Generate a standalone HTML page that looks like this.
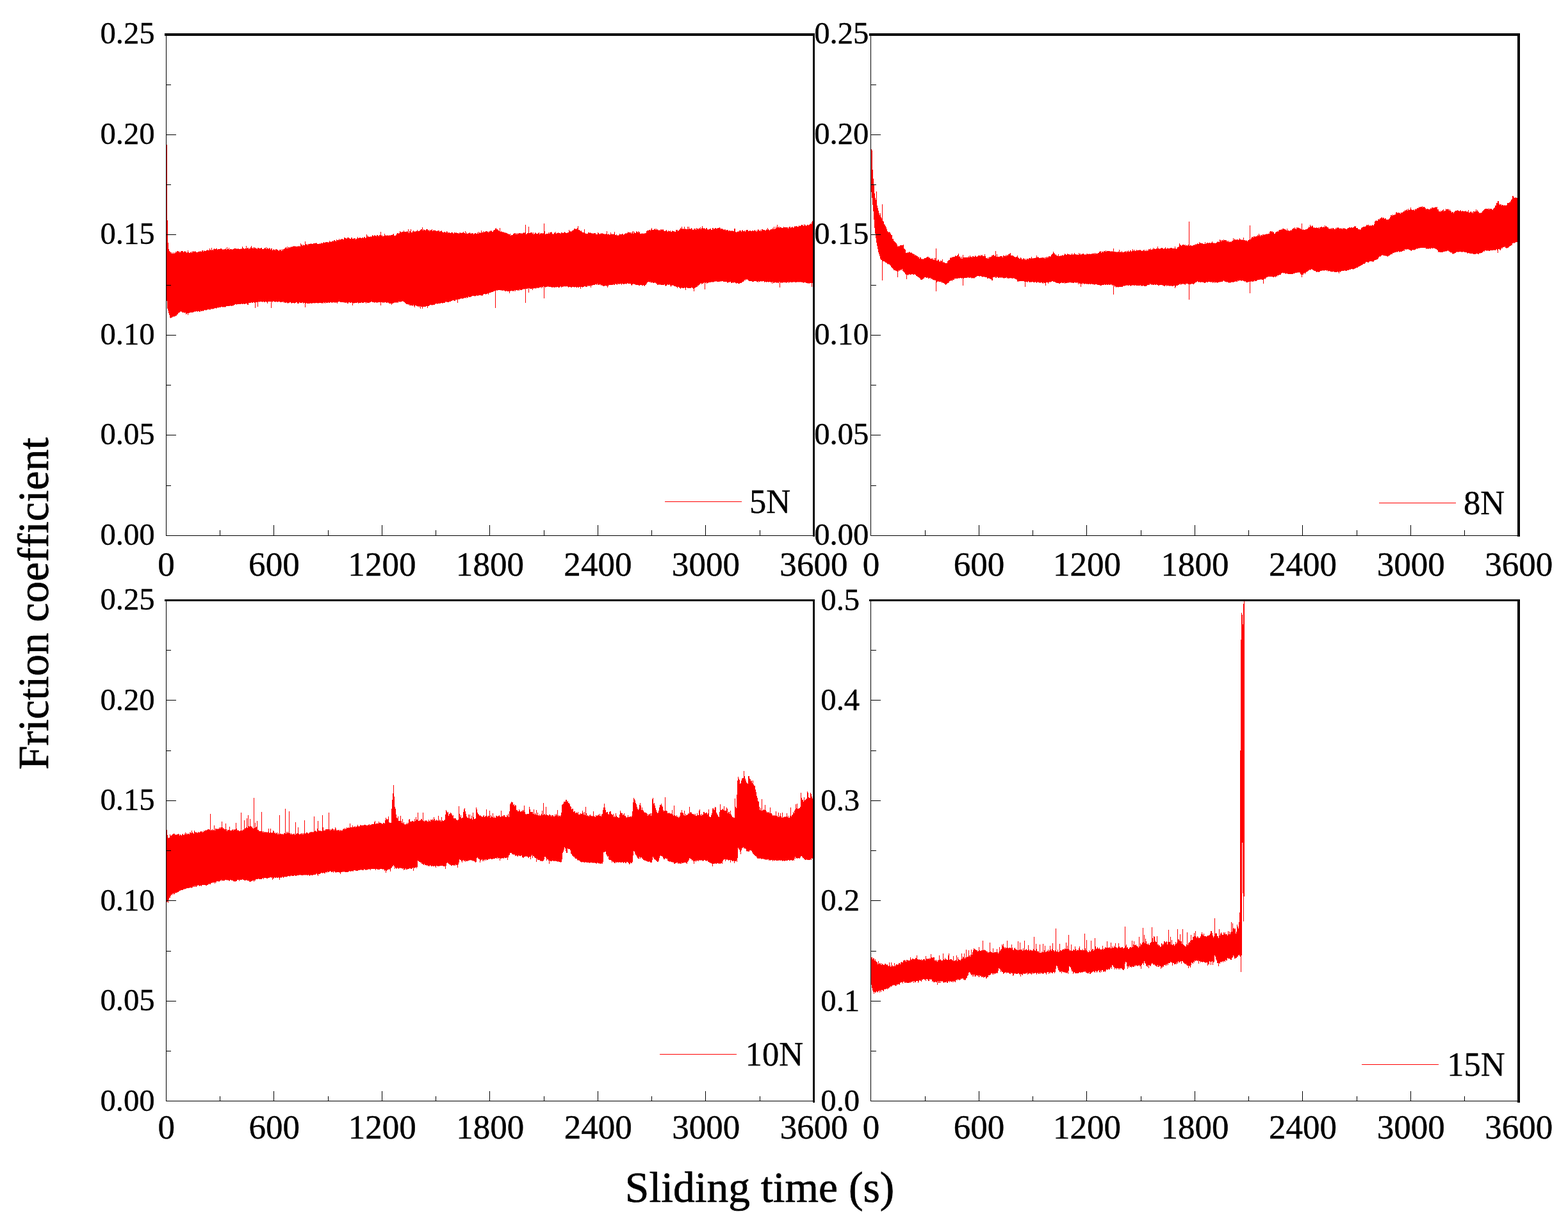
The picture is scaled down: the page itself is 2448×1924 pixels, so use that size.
<!DOCTYPE html>
<html lang="en"><head><meta charset="utf-8"><title>Friction coefficient vs sliding time</title>
<style>
html,body{margin:0;padding:0;background:#fff}
body{width:2448px;height:1924px;overflow:hidden}
svg{display:block}
text{font-kerning:none}
</style></head><body>
<svg width="2448" height="1924" viewBox="0 0 2448 1924">
<rect width="2448" height="1924" fill="#fff"/>
<g fill="#ff0000" shape-rendering="crispEdges">
<path d="M260 226h1v118h1v35h1v10h1v3h1v1h1v1h1v2h1v-2h1v2h2v-2h1v2h1v-1h1v-2h1v1h1v-2h2v1h1v-1h1v2h2v-2h4v2h1v-1h1v-1h1v1h2v2h1v-1h1v-3h1v3h1v1h2v-1h1v-1h1v2h1v-2h1v-1h1v1h2v-1h1v1h1v1h3v-1h3v-1h1v1h2v-2h2v2h1v-2h1v1h3v-1h1v-1h1v1h3v-3h1v2h1v1h1v-4h1v3h1v1h1v-2h1v-1h1v1h2v-1h2v2h1v-1h4v-1h2v1h1v1h1v-1h1v1h1v-1h2v-1h1v2h1v-4h1v3h2v-2h1v3h1v-1h3v1h1v-1h2v-1h4v1h1v-1h1v1h1v-1h1v1h3v-1h1v1h1v-4h1v2h1v1h1v1h1v-1h2v-4h1v4h1v-1h2v2h1v-1h2v-2h1v-2h1v3h1v1h1v-2h1v2h1v-2h1v1h1v1h2v1h1v-2h2v1h3v-1h2v2h3v-1h1v-1h1v1h1v-2h1v3h1v-2h1v1h1v1h1v-2h1v1h1v2h1v-2h2v3h1v-1h1v-1h1v1h1v1h1v-2h2v1h2v1h1v1h1v-2h3v2h1v-3h1v2h1v-2h2v-1h1v-1h1v-1h1v2h1v-3h1v3h1v-2h2v1h1v-1h1v-1h1v1h1v-1h2v-1h1v1h1v-1h1v1h4v-1h1v1h1v-1h1v1h1v-5h1v2h2v2h1v-2h1v1h2v-6h1v4h1v1h1v-1h1v2h1v-2h4v-1h1v1h3v-1h4v-1h1v1h1v1h4v-1h1v1h1v-2h1v1h2v-1h1v-1h1v1h2v-1h4v1h1v-1h1v-2h1v2h1v-1h1v1h1v-1h1v-1h1v1h1v-2h2v1h1v1h1v-3h1v1h3v-2h1v2h1v-1h2v-1h2v1h2v-3h2v1h2v1h1v-2h3v1h1v1h2v-2h2v2h2v-1h3v2h1v-1h1v-1h1v-2h1v2h2v-1h2v1h2v-1h2v1h1v-2h2v2h1v-1h1v-5h1v2h1v2h1v-1h1v1h2v-1h1v1h1v-1h1v-2h1v1h1v1h1v-2h1v1h2v1h1v-2h2v1h1v1h1v-2h2v-5h1v6h1v-1h1v2h2v-1h1v-3h1v3h1v-1h1v1h2v-1h1v1h2v-1h1v1h1v-1h3v-1h1v-1h1v3h3v-1h1v-2h1v-1h2v1h1v-1h1v-3h1v1h1v1h1v-1h3v-2h1v2h4v-1h1v1h1v-4h1v6h1v-3h2v-3h1v5h2v-2h1v-1h1v2h1v-1h1v1h1v-1h2v-2h1v2h3v-1h1v-1h1v-1h2v-3h1v5h1v-2h1v1h2v1h1v-2h3v2h1v-1h1v2h1v-2h1v1h1v-1h1v-1h1v3h1v-1h1v-1h1v1h3v1h2v-1h3v2h1v-1h2v-1h1v2h1v1h2v-1h2v1h2v-2h1v1h1v2h1v-1h2v1h2v-1h3v1h1v1h1v-2h2v1h1v-1h1v1h3v1h1v-2h1v1h1v-1h1v1h2v-1h1v-1h1v2h2v-3h1v4h1v-2h1v2h2v-1h2v-1h1v2h1v-1h1v1h1v-1h2v2h1v-1h1v-1h2v1h2v-2h1v2h1v-3h1v2h1v-1h1v1h1v-4h1v3h2v-2h1v2h1v-1h2v-1h3v1h1v1h1v-2h1v1h1v-2h1v1h1v-1h1v2h2v-2h1v-1h2v-2h1v-1h1v2h2v1h1v1h1v1h1v-5h1v6h1v-1h1v1h2v1h1v-1h1v1h1v1h1v-1h1v1h2v1h2v1h2v-1h1v3h1v-1h3v-2h2v-1h2v2h1v-2h1v2h1v-2h1v1h1v-1h3v1h1v-1h1v1h1v-1h1v-1h1v1h1v-1h1v-12h1v15h1v-1h1v-1h2v-10h1v10h2v-1h3v2h1v-2h1v3h1v-1h1v-2h1v1h1v1h3v-1h1v-1h1v3h1v-2h1v1h1v-1h2v1h1v-1h1v-15h1v12h1v5h1v-1h4v-2h1v2h1v-2h2v-1h1v1h1v2h1v1h1v-1h1v-2h1v1h1v-2h1v3h1v-1h2v-1h1v1h3v1h1v-2h2v1h2v-1h1v-1h1v1h1v1h3v-1h2v-4h1v2h2v1h1v-1h1v-1h2v-1h1v-2h2v1h1v-1h1v1h1v-2h1v-3h1v6h2v1h1v1h1v-1h1v2h1v1h3v-5h1v6h1v1h4v-2h2v1h1v-1h1v1h2v1h1v-1h1v1h1v-1h3v2h3v-3h1v1h1v1h1v1h1v-1h1v-1h1v1h1v-1h1v1h2v1h1v-1h1v1h1v-1h1v-4h1v5h2v-1h1v2h1v-1h1v-3h1v3h1v-1h1v1h2v-1h1v-3h1v5h2v-1h1v2h1v-1h1v1h1v-1h1v-2h1v1h3v-1h2v2h1v-1h1v-1h1v-1h1v1h1v-1h2v-2h1v1h4v2h1v-2h1v-2h1v4h1v-4h1v2h1v1h2v-3h1v1h1v1h1v-2h1v2h1v-1h1v3h3v-1h1v1h2v-1h1v1h1v-1h2v-3h1v-1h3v-1h2v1h1v-2h1v-2h1v3h3v-1h1v-1h1v2h1v-2h1v2h1v-1h1v1h1v1h1v-1h1v1h1v-2h1v1h1v-1h1v1h1v-1h1v2h1v1h2v-1h1v-1h1v2h1v1h1v-2h1v1h2v-1h1v2h2v-2h1v1h3v1h2v-3h3v2h1v-1h1v-1h1v-1h1v-2h1v1h1v-3h1v3h1v1h1v-1h1v-3h1v4h1v-1h1v1h2v-4h1v4h1v-4h1v3h1v1h1v-1h1v-1h1v1h1v2h2v-2h3v2h1v-3h1v1h2v1h1v-2h1v1h1v-2h1v3h1v-2h1v-3h1v3h1v1h1v-1h1v1h1v1h1v-2h2v2h1v1h1v-1h2v-1h2v2h2v-3h2v2h1v-1h1v-1h2v1h2v-1h3v-1h1v1h1v2h1v-1h2v1h1v1h1v-1h1v1h1v-1h1v2h1v-1h3v2h1v-1h2v1h1v-1h1v1h1v-1h1v1h2v-4h2v5h1v1h1v-1h2v-1h1v1h1v-2h3v2h1v-2h1v-1h1v2h2v-1h1v2h1v-2h1v-1h3v2h2v-1h2v1h2v-1h2v1h1v-1h1v-1h1v2h1v-1h1v2h1v-2h1v-2h1v1h1v1h1v1h1v-2h1v2h1v-3h2v1h3v1h2v-2h1v1h1v-3h1v2h1v1h1v1h1v-1h1v-1h3v-2h1v2h1v-4h1v4h1v-1h1v-3h1v2h1v-5h1v4h1v-1h1v2h1v-2h1v1h2v1h3v-2h1v1h6v2h1v-2h1v-1h2v2h1v-1h2v-1h1v2h1v-1h1v-2h1v1h1v-1h2v1h3v-2h1v1h2v-1h1v-1h2v1h1v1h1v-3h1v2h1v-1h1v2h1v-1h1v-1h2v1h1v-1h1v-1h1v-1h1v1h1v-3h1v-2h1V442h-1v6h-1v-6h-3v1h-1v-1h-1v1h-1v-1h-3v-1h-3v1h-1v-1h-3v-1h-1v1h-1v-1h-1v1h-1v-1h-1v1h-1v-1h-1v1h-3v-1h-1v1h-1v-1h-1v1h-4v-1h-1v1h-1v1h-1v-2h-1v1h-2v1h-1v-1h-5v1h-1v-1h-1v1h-1v-1h-1v8h-1v-9h-1v2h-2v-1h-1v1h-1v-1h-3v1h-2v-2h-1v3h-1v-2h-1v-1h-1v1h-1v-1h-2v1h-1v-1h-2v1h-1v-1h-2v1h-1v-2h-3v1h-1v-1h-2v1h-2v-1h-1v2h-1v-1h-2v-1h-4v1h-3v-1h-5v-1h-1v-1h-1v-1h-1v1h-1v-1h-1v2h-1v-1h-1v2h-1v1h-2v1h-1v1h-3v1h-3v-1h-2v1h-1v-1h-1v-1h-3v1h-1v-1h-1v1h-2v-2h-2v1h-3v1h-1v-2h-6v-1h-3v1h-1v-1h-1v1h-5v-1h-1v1h-1v-1h-1v1h-2v1h-1v-1h-1v1h-1v-1h-1v1h-4v1h-2v1h-1v-2h-1v1h-1v10h-1v-11h-1v1h-1v1h-2v1h-1v-2h-1v1h-1v1h-1v1h-1v1h-2v2h-2v1h-2v1h-1v5h-1v-4h-1v-1h-1v-1h-2v1h-6v-1h-2v4h-1v-3h-1v-1h-1v1h-3v-1h-1v1h-1v1h-1v-1h-1v-1h-1v-1h-2v2h-1v-2h-2v-1h-3v-1h-1v-1h-1v1h-2v2h-1v-2h-1v-2h-1v1h-2v-1h-1v1h-1v1h-1v1h-1v-1h-1v-2h-1v1h-6v-1h-1v1h-1v-1h-1v1h-2v-2h-2v-1h-1v-1h-1v1h-3v-1h-2v1h-1v-2h-1v1h-1v-1h-2v1h-2v2h-1v2h-2v2h-1v-1h-1v-1h-1v1h-2v-1h-3v1h-2v-1h-5v-1h-2v-1h-1v1h-2v2h-1v-1h-1v-2h-5v-1h-1v1h-1v1h-1v-1h-2v1h-2v-1h-2v2h-1v-2h-2v1h-1v-1h-1v1h-1v-1h-1v2h-1v-1h-2v-1h-1v2h-2v-1h-1v1h-7v2h-1v2h-1v-3h-1v1h-1v-1h-2v1h-3v-1h-1v-1h-1v1h-1v-2h-1v1h-1v-1h-1v1h-2v-2h-1v2h-1v-1h-2v1h-4v1h-2v3h-1v-3h-1v1h-1v-1h-1v1h-1v-1h-1v2h-3v-1h-2v1h-2v1h-1v-1h-2v3h-1v-3h-2v1h-2v-1h-1v1h-2v-1h-2v1h-1v-1h-3v1h-2v-1h-3v1h-1v-1h-1v-1h-2v1h-1v-1h-2v1h-1v-1h-1v1h-2v1h-1v-2h-1v1h-1v1h-3v-1h-2v1h-1v-1h-1v1h-3v-1h-1v1h-2v-1h-5v-1h-1v1h-3v1h-1v-1h-1v18h-1v-19h-1v2h-1v-1h-1v2h-1v-2h-1v1h-3v1h-2v-1h-1v1h-1v1h-1v-1h-2v1h-1v-1h-1v3h-1v-2h-4v-1h-1v7h-1v-7h-1v1h-3v22h-1v-22h-1v1h-1v-1h-1v1h-2v1h-3v-1h-1v2h-1v-1h-1v1h-1v-1h-3v2h-1v-2h-1v2h-1v-1h-1v1h-1v-1h-3v1h-1v3h-1v-3h-4v-1h-1v1h-2v-1h-1v-1h-1v1h-2v-1h-1v1h-1v-1h-5v1h-1v-1h-1v1h-1v27h-1v-27h-1v1h-2v1h-3v1h-3v1h-1v2h-1v-2h-1v1h-2v1h-1v-1h-3v1h-1v2h-1v-1h-1v1h-1v-1h-4v1h-2v-1h-1v1h-2v1h-1v-1h-4v1h-2v1h-3v-1h-1v2h-2v-1h-1v2h-1v-1h-2v1h-3v1h-1v-1h-2v1h-2v1h-1v-1h-1v6h-1v-5h-3v2h-2v-1h-3v1h-2v1h-3v1h-3v-1h-1v1h-1v-1h-1v2h-4v1h-1v-1h-2v1h-5v1h-1v-1h-2v1h-1v1h-4v1h-1v-1h-3v1h-1v1h-2v3h-1v-3h-2v1h-5v3h-1v-3h-2v3h-1v-4h-1v2h-1v-2h-1v1h-1v-1h-2v-1h-2v3h-1v-2h-1v-2h-1v2h-1v-1h-5v-2h-1v1h-1v-1h-3v-1h-1v-1h-1v-1h-1v-1h-2v-1h-1v1h-3v1h-1v-1h-2v2h-1v-1h-1v1h-1v-1h-1v1h-1v-1h-1v1h-2v1h-2v2h-1v-2h-4v-1h-1v-1h-1v1h-2v-1h-3v1h-1v-1h-1v1h-1v-1h-2v5h-1v-5h-4v1h-1v-1h-1v1h-1v-1h-2v1h-1v-1h-3v-1h-2v1h-2v1h-4v-1h-1v2h-1v-2h-3v1h-3v-1h-1v1h-4v1h-1v-2h-1v1h-5v1h-1v-1h-1v4h-1v-4h-1v-1h-1v1h-2v-1h-2v2h-2v-2h-1v1h-2v-1h-1v1h-1v-1h-6v-1h-3v1h-1v2h-1v-2h-1v1h-1v-1h-1v1h-1v-1h-2v1h-1v-1h-1v1h-1v-1h-2v1h-2v-1h-1v1h-3v-1h-1v2h-1v-1h-1v-1h-1v2h-1v-1h-1v1h-1v-1h-5v1h-1v-1h-4v1h-1v-1h-2v1h-1v-1h-1v1h-2v-1h-1v1h-5v-1h-1v1h-1v6h-1v-7h-2v1h-1v-2h-1v1h-4v-1h-1v2h-3v-2h-2v1h-2v1h-1v-1h-3v1h-1v-1h-1v-1h-2v1h-2v1h-1v-1h-1v-1h-1v1h-2v-1h-1v1h-1v-2h-1v1h-1v-1h-1v1h-3v-1h-3v1h-1v-1h-3v1h-1v-1h-2v-1h-1v2h-1v-1h-1v10h-1v-10h-5v3h-1v-2h-1v-1h-2v1h-2v-1h-2v1h-1v-1h-4v1h-1v-1h-1v8h-1v-7h-3v9h-1v-8h-1v-1h-2v1h-2v-1h-1v1h-4v3h-2v-2h-3v1h-2v-1h-1v1h-2v-1h-1v1h-7v1h-1v-1h-2v1h-2v1h-1v1h-1v-1h-1v1h-2v-1h-1v1h-6v1h-1v1h-1v-1h-1v1h-1v-1h-1v1h-1v-1h-2v1h-4v1h-1v-1h-1v1h-1v1h-1v-1h-2v1h-2v1h-1v-1h-1v1h-1v-1h-1v2h-1v-1h-1v1h-1v-1h-2v1h-2v1h-1v-1h-2v1h-1v1h-1v-1h-1v1h-2v-1h-1v2h-2v-1h-2v1h-1v-1h-2v1h-1v-1h-1v1h-2v1h-6v1h-2v3h-1v-3h-1v1h-1v1h-1v-3h-1v1h-1v-1h-4v-1h-1v-1h-1v1h-1v1h-2v1h-1v2h-2v2h-2v1h-2v1h-1v-1h-1v1h-1v1h-2v1h-1v-1h-1v-4h-1v-3h-1v-4h-1v-3h-1v-12h-1Z"/>
<path d="M1360 233h1v2h1v30h1v14h1v10h1v13h1v7h1v3h1v-13h1v22h1v4h1v4h1v4h1v3h1v-3h1v6h1v2h1v-22h1v26h1v1h1v4h1v1h1v2h1v2h1v3h1v3h1v1h1v1h1v-1h1v1h1v2h1v2h2v6h2v3h1v1h1v1h1v1h1v1h1v2h1v3h1v-1h1v1h1v-1h1v-1h5v-1h1v6h1v1h1v1h1v5h2v-1h1v1h1v-1h1v-1h1v1h1v1h1v-1h1v1h1v1h2v1h2v2h1v-1h1v1h1v1h2v2h1v-1h1v3h1v-2h2v2h1v1h1v-1h1v1h1v-1h1v-1h3v-1h1v-1h3v2h1v-1h1v2h3v-1h1v2h1v1h1v-3h1v3h1v-3h1v-15h1v19h2v-2h1v1h1v2h1v1h1v-2h2v1h1v-3h1v5h1v-1h1v1h1v1h4v-3h1v-1h1v-1h2v-3h1v-1h1v1h1v-2h1v1h1v-1h3v-2h1v1h2v-1h1v-1h1v-2h1v5h1v-1h1v2h1v2h1v-3h1v3h1v-6h1v4h8v-2h1v2h1v-3h1v2h2v1h1v-2h2v1h2v-2h1v1h1v1h2v-1h1v-1h3v1h1v-2h1v1h1v-1h1v2h3v-3h1v3h1v3h2v1h1v-2h1v2h1v-3h1v1h1v-1h2v-2h2v-1h2v2h1v-1h1v-7h1v9h1v-4h1v4h4v-1h4v2h1v-3h2v1h2v-2h1v2h1v-2h1v1h1v-2h2v-1h1v-1h1v4h4v1h1v1h2v1h1v-1h2v-2h1v3h1v1h1v1h2v-2h1v1h1v2h2v-2h1v1h2v2h1v-2h1v2h1v-2h2v1h1v-2h3v1h1v-3h1v2h1v1h1v-1h4v-1h1v-3h1v3h1v-1h1v1h1v1h3v-1h1v1h1v-1h2v1h1v-1h1v2h1v-2h1v-1h1v2h1v-2h1v1h1v-2h2v1h1v-1h1v-2h1v-1h1v-1h1v-3h1v2h1v1h1v2h1v-1h1v2h2v1h1v-3h1v3h2v-1h1v1h1v-1h1v-1h1v1h2v-1h1v-2h1v1h1v1h2v-2h1v1h3v1h2v-2h1v2h1v-2h1v2h1v-1h1v-2h1v2h2v1h1v-1h1v1h2v-3h1v2h1v-1h1v2h1v-1h2v-1h2v1h1v1h1v-1h1v1h1v-2h1v1h1v-1h1v1h2v-1h1v1h2v-1h4v-1h1v2h1v-2h1v1h3v-1h2v-2h2v-1h1v3h1v-2h2v1h1v-2h2v1h1v-2h1v2h1v-1h5v1h1v-1h1v1h1v-1h1v1h1v-5h1v5h3v1h1v-1h1v1h1v-1h2v-3h1v4h1v-1h1v1h1v-2h1v2h3v-1h2v-1h1v2h1v-2h1v1h1v-2h1v2h2v-2h2v2h1v-1h1v-3h1v2h1v1h1v-2h1v2h2v-2h1v1h3v-1h1v1h1v-1h1v1h1v1h2v-1h1v-1h1v2h1v-2h1v2h2v-2h1v2h1v-1h1v-2h2v1h1v-2h1v2h2v-1h1v-2h1v2h1v-1h1v1h2v-1h2v-3h1v3h2v1h1v-1h2v-1h2v1h1v1h1v-1h2v-2h1v2h1v1h1v-2h1v1h4v-1h3v1h4v-3h1v3h1v1h1v-1h1v-2h2v-1h1v-5h1v2h1v1h1v1h1v-1h1v-1h3v1h1v-1h1v2h1v-1h2v1h1v-2h1v-36h1v38h1v-1h2v1h2v-1h2v-1h1v1h1v-2h1v1h1v-1h1v-1h1v1h2v-3h1v2h1v-1h1v1h3v1h3v-3h1v3h1v-1h1v-1h2v1h1v-1h2v1h1v-1h2v-2h1v2h1v1h1v-1h1v1h2v-1h2v-1h1v-1h1v1h2v-4h1v1h1v2h1v-2h2v1h1v-2h1v1h4v2h1v-1h1v2h1v-2h1v2h2v-1h1v1h1v-2h2v-4h1v3h1v-2h1v1h1v1h1v-1h3v1h1v-1h1v-2h1v2h2v1h1v-1h1v1h1v-4h1v4h2v1h1v-1h1v1h1v1h1v-2h2v-1h1v-22h1v22h1v-2h1v-2h2v1h1v-2h2v1h1v-1h3v-2h1v1h1v-3h1v2h1v2h1v-2h2v1h1v-2h2v1h1v-1h3v-1h1v1h1v-1h3v-3h1v-1h2v1h1v-1h1v2h1v-1h1v3h2v-2h1v-1h2v-1h1v1h1v-2h1v-1h3v-1h1v1h1v-2h3v1h2v1h1v1h1v-3h1v3h3v1h1v-1h1v-1h1v1h1v-2h1v-1h1v-1h1v1h1v-2h1v2h1v1h1v-3h1v1h1v-1h1v1h2v1h2v1h1v-9h1v10h1v-1h1v1h3v-1h3v-1h1v-1h1v-2h1v1h1v-4h1v2h1v1h1v-2h1v1h1v2h1v1h1v-1h1v1h2v-1h1v1h2v-1h1v2h1v-2h2v-1h2v1h2v-1h1v1h1v-3h1v2h1v-1h1v1h1v1h2v2h2v1h1v-1h1v-1h1v2h1v-2h2v1h1v1h2v-2h1v1h1v-2h1v1h1v-1h1v1h1v1h2v-1h1v1h1v1h1v-2h1v1h1v-1h1v1h2v1h2v-1h1v-1h2v-1h2v1h1v-1h2v1h1v-1h2v-2h1v1h1v-1h1v3h3v2h3v1h1v-1h1v-2h1v-1h2v-1h4v-1h1v-2h1v1h1v-1h2v2h1v-1h2v1h1v-1h1v-1h1v1h2v-2h1v-4h1v-1h1v-1h1v1h2v-2h1v-1h1v1h1v-2h2v-1h1v-1h1v2h1v-1h2v2h1v-1h2v2h4v-1h1v-1h1v-2h1v-3h2v1h1v-2h1v1h2v-1h2v-3h1v-1h1v2h1v-1h2v1h1v-1h1v2h1v-2h3v-1h1v-1h2v-2h1v1h1v-1h1v-1h1v2h1v-3h1v2h2v-1h1v-3h1v3h1v1h3v-1h1v2h1v-2h1v-1h1v1h1v-2h3v-2h1v1h1v-1h3v-1h1v2h1v-1h2v1h1v1h1v2h1v-1h3v1h3v-2h1v1h1v-2h3v1h1v-1h2v-1h1v1h1v-1h1v4h2v3h2v1h1v-2h1v1h1v-1h1v-1h1v-1h1v3h1v-1h2v-3h1v1h2v-1h1v1h1v2h1v-2h1v2h1v1h1v2h1v-1h2v2h1v-2h1v-1h1v-1h3v-1h1v1h2v1h1v-1h1v-1h1v2h2v-1h1v1h4v-1h1v2h1v-1h1v1h1v-3h1v4h2v-1h1v-1h1v2h1v-1h1v2h1v-3h2v1h1v-1h1v-3h1v3h1v-2h1v2h1v1h1v2h1v-1h1v1h1v-1h2v-2h1v-1h1v-1h1v-1h1v-1h5v1h1v-2h1v2h1v-1h3v1h1v1h1v-2h1v-1h1v-1h1v-3h2v-4h2v-3h2v4h1v2h1v-1h2v2h1v-1h2v1h2v-1h1v1h2v-1h1v-3h3v-1h2v-2h1v-2h1v-1h1v-5h2v2h1v1h2v-1h1v1h2V378h-3v1h-1v1h-1v-1h-1v1h-2v3h-2v1h-2v1h-1v1h-1v1h-2v1h-1v-1h-2v-2h-1v1h-3v2h-1v-1h-1v2h-1v2h-1v-1h-1v-1h-2v6h-1v-4h-1v-2h-1v1h-1v1h-2v-1h-1v1h-6v1h-2v-1h-1v1h-1v-1h-1v1h-1v-1h-2v2h-1v-1h-1v1h-1v1h-1v1h-3v1h-1v-1h-1v2h-2v-1h-3v1h-4v-1h-6v-1h-2v1h-1v-1h-1v-1h-4v-1h-2v1h-1v-1h-1v1h-1v-1h-3v1h-1v-1h-1v1h-1v-1h-1v1h-1v1h-2v1h-2v1h-1v-1h-1v-2h-1v1h-1v-1h-1v-1h-2v-1h-1v-1h-1v1h-2v1h-1v-1h-1v1h-3v1h-6v-1h-1v1h-1v-3h-1v-1h-1v-1h-2v-1h-2v-1h-1v1h-3v-1h-1v2h-1v-1h-2v1h-1v-1h-1v1h-1v-1h-1v1h-1v-2h-9v1h-1v-1h-1v1h-2v1h-1v-1h-1v1h-1v1h-2v1h-1v-1h-2v1h-1v1h-1v-1h-2v-1h-2v-1h-2v1h-1v-1h-1v1h-1v-1h-1v3h-1v-1h-1v1h-2v1h-4v1h-1v-2h-1v1h-1v1h-1v-1h-1v1h-3v1h-3v2h-3v1h-1v1h-2v1h-1v1h-1v-1h-2v-1h-1v1h-1v-1h-3v-1h-1v1h-2v2h-1v-1h-1v1h-1v1h-1v2h-1v1h-2v1h-3v1h-1v2h-1v-1h-1v1h-1v-1h-4v1h-1v1h-2v-1h-3v2h-1v1h-3v1h-1v1h-2v1h-2v1h-2v1h-1v1h-3v1h-2v1h-2v1h-1v-1h-3v1h-3v1h-3v1h-3v-1h-1v1h-5v1h-1v1h-1v-1h-1v3h-1v-2h-1v-1h-1v1h-5v-1h-3v1h-1v-1h-3v-1h-2v1h-1v-2h-1v1h-1v-1h-3v1h-1v-1h-1v1h-1v-1h-1v1h-3v1h-1v1h-2v-1h-1v1h-2v-1h-1v-1h-3v-1h-1v-1h-2v-1h-1v1h-1v1h-1v-1h-1v1h-1v1h-1v1h-2v1h-1v1h-1v2h-1v-2h-1v1h-1v2h-2v4h-1v-4h-1v-1h-1v-2h-1v-1h-1v1h-1v-1h-1v1h-4v1h-3v1h-9v-1h-2v1h-1v-1h-1v-1h-1v1h-1v-1h-3v1h-1v2h-3v1h-3v2h-1v-1h-1v2h-1v-1h-2v1h-2v-1h-8v1h-2v1h-1v2h-1v-1h-1v1h-1v7h-1v-6h-2v-1h-1v1h-1v-1h-1v1h-4v1h-1v1h-3v-1h-1v2h-1v-1h-1v1h-2v-1h-1v1h-1v18h-1v-18h-2v1h-4v-2h-1v1h-1v-1h-2v-1h-2v1h-1v-1h-4v1h-1v-1h-1v2h-2v-1h-1v1h-3v1h-2v-1h-1v1h-2v1h-1v-1h-1v1h-1v-1h-1v-1h-1v1h-1v-1h-3v-1h-1v-1h-1v1h-1v1h-4v1h-1v-1h-1v1h-2v1h-1v-1h-3v1h-1v-2h-1v1h-1v1h-1v-2h-1v1h-1v-1h-1v1h-1v-1h-3v1h-2v-1h-1v1h-1v1h-2v-1h-3v-1h-1v1h-3v-1h-1v1h-1v-1h-1v-1h-1v1h-1v1h-2v1h-1v1h-1v1h-2v-1h-2v1h-3v24h-1v-24h-1v-1h-4v2h-1v-1h-2v-1h-1v1h-1v-1h-1v1h-1v1h-1v-2h-1v1h-1v1h-2v1h-3v2h-1v2h-1v-4h-2v1h-3v-1h-1v1h-1v-1h-1v1h-1v-1h-3v1h-1v-2h-1v1h-1v1h-2v-1h-2v-1h-5v1h-2v-1h-2v-1h-1v1h-2v-1h-1v1h-3v-1h-1v1h-1v-1h-1v-1h-1v2h-4v1h-1v1h-4v-1h-2v1h-1v-1h-1v1h-1v-2h-1v1h-7v-1h-1v1h-2v-1h-1v1h-1v-1h-1v1h-1v1h-1v-1h-1v-1h-1v1h-3v-1h-1v1h-3v1h-1v-1h-1v1h-1v1h-7v1h-1v-1h-2v1h-1v-2h-1v1h-1v-2h-1v14h-1v-15h-1v1h-1v-2h-1v1h-1v-1h-1v1h-2v-1h-1v1h-2v-1h-1v1h-2v-1h-1v1h-4v1h-3v-1h-4v-1h-4v1h-1v-1h-3v-1h-1v1h-3v-1h-1v1h-2v-1h-1v1h-1v-1h-2v1h-1v-1h-2v-1h-1v2h-1v-1h-1v5h-1v-5h-2v-1h-1v2h-1v-3h-1v1h-1v-1h-1v1h-1v-1h-2v1h-3v-1h-1v1h-1v-1h-3v1h-1v-1h-1v1h-4v1h-1v-2h-1v1h-3v-1h-1v1h-2v1h-2v-1h-4v-1h-2v-1h-3v-1h-2v1h-2v1h-1v-1h-1v1h-1v2h-1v-2h-3v5h-1v-4h-2v-1h-1v2h-1v-1h-1v-1h-2v1h-1v-1h-1v1h-1v-1h-1v-1h-1v1h-1v1h-1v-1h-1v-1h-1v1h-3v-1h-2v1h-1v-1h-1v1h-2v-1h-1v-1h-1v2h-1v-1h-3v8h-1v-8h-1v-1h-8v1h-1v-1h-1v1h-1v-3h-1v-1h-2v-1h-2v-1h-1v1h-2v-1h-1v1h-1v-1h-2v1h-2v-1h-1v1h-1v-2h-1v1h-3v1h-1v-1h-2v-1h-1v1h-1v-1h-1v1h-1v-1h-1v1h-2v-1h-1v-1h-1v2h-2v-2h-1v1h-3v5h-2v-2h-2v-1h-2v-1h-1v1h-2v-2h-4v-1h-2v1h-1v-1h-2v-1h-2v1h-1v-1h-4v1h-1v1h-2v1h-1v1h-1v-1h-2v1h-1v-1h-1v-1h-1v1h-2v-1h-1v1h-1v-1h-1v1h-5v1h-1v11h-1v-12h-1v1h-1v-1h-3v1h-1v-1h-1v1h-6v2h-3v2h-1v-1h-2v1h-2v2h-1v1h-2v1h-1v1h-1v1h-1v-1h-1v-1h-1v-1h-2v-1h-1v1h-1v-2h-5v-1h-1v1h-1v1h-1v14h-1v-17h-1v-1h-1v1h-1v-1h-2v-1h-1v-1h-1v1h-1v-2h-2v1h-2v-2h-1v1h-2v-1h-3v2h-2v1h-1v1h-3v-2h-1v-1h-1v-1h-2v-1h-1v-1h-2v-2h-2v-1h-1v1h-2v-1h-2v1h-3v-1h-1v1h-1v1h-1v-1h-1v7h-1v-7h-1v-1h-1v-2h-1v-1h-1v-1h-1v-1h-1v-3h-1v2h-1v-1h-1v1h-1v1h-1v-1h-1v2h-1v9h-1v-9h-1v-1h-2v-1h-3v-2h-1v-1h-1v-1h-1v-1h-1v-2h-1v-1h-1v-1h-1v-1h-1v1h-1v-1h-1v-1h-1v-1h-2v-1h-1v-1h-3v30h-1v-32h-2v-2h-1v-4h-1v-3h-1v-3h-1v-5h-1v-5h-1v-5h-1v-7h-1v-7h-1v-9h-1v-13h-1v-13h-1v-10h-1v-11h-1v-9h-1Z"/>
<path d="M260 1296h1v8h1v4h1v1h1v-1h1v-5h1v2h2v-1h1v-1h1v-1h3v2h1v-1h1v1h1v-1h2v-1h1v1h1v2h1v-2h1v1h1v1h1v-2h1v-1h1v2h2v-2h1v-2h1v3h1v-2h1v2h1v-1h2v1h1v-3h2v1h1v-4h1v3h1v1h1v1h1v-5h1v2h1v1h3v1h1v-2h1v1h2v-1h1v-1h1v1h1v-1h1v2h1v-1h1v-2h1v1h1v-1h1v-1h1v1h1v-1h1v-1h3v1h1v-25h1v26h1v-1h1v-1h1v2h1v-1h1v-7h1v8h1v-3h2v1h1v-1h1v1h1v-1h1v-2h1v2h1v-2h2v-9h1v9h1v2h1v-1h1v2h2v-9h1v9h1v3h1v-2h3v-5h1v6h3v-1h1v-1h1v2h1v-2h1v1h1v-1h1v-10h1v9h1v3h1v-1h1v1h1v1h2v-1h1v-28h1v28h2v-2h1v1h1v-15h1v13h1v-1h1v-1h1v-14h1v15h1v-20h1v17h1v1h1v-12h1v11h1v1h2v2h1v1h1v-48h1v47h1v-8h1v7h1v-1h1v-9h1v14h2v2h4v-30h1v30h1v2h1v-2h1v2h1v-1h1v1h1v-1h1v1h2v-1h1v-5h1v7h1v-1h1v-6h1v6h1v1h1v-1h1v-3h1v1h1v3h1v-1h1v2h1v-1h1v-1h1v3h1v-2h1v2h1v-30h1v29h2v1h1v-1h1v1h2v-2h2v-38h1v39h1v-3h1v2h1v-2h1v2h1v-34h1v34h1v2h1v-2h1v2h3v-1h2v2h1v-20h1v18h2v-1h1v-9h1v10h1v1h2v-1h1v-1h1v2h1v-2h1v2h1v-2h1v-20h1v21h1v-1h1v-1h2v1h1v1h1v-1h1v-1h1v-1h1v1h1v-1h2v1h1v-1h1v-24h1v23h1v-1h1v1h1v1h1v-5h1v-12h1v15h2v1h1v-1h1v1h2v-25h1v19h1v5h3v-2h5v-26h1v26h1v2h1v-2h1v1h1v-2h2v1h1v2h1v-2h1v-3h1v2h1v3h1v-1h1v1h1v-1h2v2h1v-2h1v1h3v-2h1v-1h1v1h1v-2h1v2h1v-1h1v-2h1v1h2v-1h1v1h1v-7h1v6h3v-3h1v3h1v-1h2v-1h1v2h1v-1h1v-1h1v-2h1v2h1v1h1v-1h1v-2h1v1h5v-1h3v1h4v-1h1v-1h1v2h1v-1h2v-1h4v-3h1v-2h1v5h1v-1h4v-3h1v2h3v1h2v1h1v-2h2v1h1v-5h1v-4h1v2h1v1h1v-1h1v-4h1v9h1v1h3v-22h1v-14h1v-10h1v-13h1v18h1v16h1v3h1v9h1v5h1v1h1v-3h1v7h3v-8h1v8h1v3h1v-6h1v7h1v-2h1v3h1v1h1v-1h2v-2h1v2h1v-2h1v-5h1v-1h1v4h3v-1h2v1h2v-4h1v3h1v-6h1v4h2v-11h1v13h2v-1h2v-2h2v2h1v-12h1v13h1v1h1v-2h1v1h1v-1h1v1h1v1h2v-3h1v2h1v1h1v-3h2v1h1v-2h1v2h1v-5h1v3h1v3h1v-1h1v-1h1v2h1v-1h1v-7h1v8h1v-2h1v1h1v2h1v-7h1v5h1v1h2v-1h1v-1h1v-8h1v-7h1v2h1v2h1v-1h1v6h1v-3h2v-2h1v1h1v2h1v2h1v-1h1v5h4v2h1v1h2v-1h1v-21h1v12h1v5h1v-3h1v5h1v-1h2v-9h1v-4h1v-2h1v5h1v4h1v4h1v2h2v-5h1v6h1v-6h1v7h1v-1h1v-4h1v6h1v-11h1v7h1v3h2v-1h1v-17h1v3h1v5h1v2h1v1h1v2h1v-1h1v1h1v1h2v1h1v-2h1v-1h1v3h1v-1h1v-1h1v-10h1v10h1v2h1v-2h2v-8h1v11h1v-4h1v2h1v1h1v-6h1v7h1v-2h1v2h2v-3h2v1h2v-1h1v-1h1v2h1v1h1v-10h1v9h1v-1h1v1h1v-2h2v2h1v1h2v-3h1v1h1v-3h1v5h1v-9h1v-11h1v-2h1v-2h1v1h2v4h1v-1h1v3h1v-2h1v1h1v7h2v2h2v-3h1v2h1v2h1v-1h2v-2h1v2h1v-2h1v-7h1v10h1v3h1v1h1v-1h4v-11h1v4h1v4h4v3h1v-7h1v8h1v-2h1v2h1v-7h1v8h1v-4h1v4h1v1h1v-2h1v2h1v-1h1v-2h1v-5h1v7h1v-19h1v18h1v-1h1v2h1v-13h1v12h1v1h2v1h1v-2h2v1h1v2h1v-2h3v2h2v-3h1v2h1v-3h1v2h1v-8h1v10h1v-2h1v1h1v1h1v-2h1v-4h1v-12h1v-1h1v-1h1v-3h3v-3h2v3h1v-1h1v3h2v2h1v3h1v1h1v4h1v-1h2v5h1v-1h2v3h1v-1h2v1h1v-2h1v4h3v-2h1v1h2v-5h1v3h1v3h1v-4h1v5h1v-13h1v10h1v4h1v-1h1v1h1v1h1v-2h1v-1h1v2h2v1h1v-1h1v-7h1v8h2v1h1v-3h1v1h2v-1h1v-1h1v2h1v-3h1v3h1v1h1v-3h1v-1h1v-6h1v-4h1v-6h1v6h1v4h1v4h1v-1h2v3h1v1h1v-4h1v-1h2v4h1v1h1v1h1v-2h1v5h1v-2h1v2h1v-6h1v4h1v2h2v1h2v-5h1v-6h1v3h1v1h2v3h1v-1h1v-2h1v4h2v2h1v1h1v-1h1v-3h1v3h2v-1h2v1h1v-2h1v-7h1v-14h1v-7h1v2h1v2h1v4h1v2h1v4h1v3h1v2h1v-2h1v-6h1v-3h1v4h1v7h1v-4h1v4h1v1h1v2h1v1h3v1h1v1h1v3h1v-2h2v-1h1v-1h1v4h1v-4h1v-22h1v-2h1v9h1v-1h1v4h1v4h1v3h1v3h1v2h1v-1h1v-3h1v-5h1v-4h2v-2h1v3h1v2h1v5h1v2h1v-1h1v-21h1v21h2v1h1v3h2v-1h1v1h1v1h1v-1h1v1h1v-6h1v7h1v2h1v-16h1v15h1v1h1v1h1v-2h1v3h1v-1h1v2h1v-1h1v-2h1v-5h2v-4h1v4h1v1h1v3h1v-7h1v8h1v-3h1v2h2v-1h1v-2h1v1h1v-11h1v9h1v-1h1v1h1v2h2v1h1v-1h1v2h1v-2h1v3h2v-4h1v3h2v-7h1v-2h1v8h1v2h1v-3h1v2h1v-1h1v-4h2v2h2v-1h2v3h1v-2h1v-6h1v11h1v1h2v-3h1v-3h1v-8h1v2h1v-2h1v3h1v-5h1v1h1v8h1v2h1v2h1v2h1v1h1v-8h1v-12h1v9h2v-1h1v-1h1v2h1v-6h1v7h3v-5h1v2h1v7h1v-2h2v3h1v-5h1v6h1v2h1v2h2v1h2v-30h1v13h1v2h1v-21h1v-22h1v-6h1v3h1v2h1v6h1v-1h1v-4h1v-3h1v-1h2v-11h1v8h1v4h1v3h1v3h1v1h1v1h1v-12h2v4h1v1h1v3h1v-1h1v4h1v-4h1v6h1v2h2v6h1v4h1v6h1v3h1v5h1v1h1v8h1v5h1v-3h1v4h1v-18h1v18h1v-1h1v-1h1v1h1v-8h1v8h1v2h1v2h1v-1h1v1h1v-1h1v2h1v-9h1v9h2v2h1v2h1v-1h1v1h1v-1h1v1h1v-7h1v7h2v2h1v-7h1v7h1v-2h1v-4h1v5h1v2h1v-8h1v8h1v-1h2v-1h1v1h1v-1h1v-5h1v6h1v-2h1v3h2v-3h1v-13h1v14h1v-2h1v-1h1v-4h1v2h1v-4h1v-2h1v-8h1v6h1v-7h1v8h2v-1h2v-2h1v-22h1v8h1v3h2v3h1v-7h1v5h1v-1h1v-1h1v-1h1v-11h1v2h1v7h1v1h2v-8h1v2h1v4h1v3h1V1341h-1v-1h-1v3h-1v-1h-1v1h-5v-1h-1v1h-2v-1h-2v-2h-2v-2h-1v-1h-2v2h-1v2h-1v-1h-2v1h-1v-1h-2v1h-1v-3h-1v3h-1v3h-1v-1h-1v1h-2v-1h-2v1h-2v-1h-2v1h-5v1h-1v-1h-2v1h-1v-1h-1v-1h-1v1h-2v-1h-1v1h-5v-1h-1v1h-2v-1h-1v2h-1v-2h-3v1h-1v-1h-1v1h-1v-2h-2v1h-1v-1h-1v1h-1v-1h-3v-1h-2v1h-1v-1h-2v-1h-1v1h-2v-1h-1v1h-1v-2h-1v-2h-2v-1h-1v-1h-1v-1h-1v-1h-1v-2h-1v-2h-1v-1h-3v2h-2v-1h-1v1h-1v-1h-1v-3h-1v-1h-3v-2h-1v1h-1v1h-1v3h-1v6h-1v-4h-1v-3h-1v-1h-1v-2h-1v16h-1v6h-1v-2h-1v1h-2v3h-1v-4h-1v1h-2v-1h-1v-1h-1v4h-1v-4h-2v1h-1v-1h-1v-1h-1v1h-1v-1h-1v3h-1v-3h-2v1h-1v2h-1v4h-1v-1h-2v1h-2v-1h-1v1h-1v-1h-2v1h-2v-1h-1v1h-3v4h-1v-4h-1v-1h-2v-1h-2v-1h-2v-2h-2v1h-1v-1h-1v-1h-2v1h-1v1h-1v-1h-1v-1h-1v1h-1v-1h-1v1h-1v-1h-1v2h-1v-1h-3v2h-1v-2h-1v1h-1v4h-1v-4h-1v-2h-1v1h-1v-2h-1v-1h-2v-1h-1v3h-1v2h-1v1h-1v3h-1v-1h-1v-1h-4v1h-2v-1h-1v2h-2v-1h-1v1h-1v-1h-1v1h-1v-2h-2v1h-2v1h-2v-2h-1v-1h-1v1h-1v-1h-2v-1h-1v1h-1v-1h-2v-1h-1v-3h-3v-1h-1v2h-2v-2h-1v-2h-1v-1h-2v-1h-1v1h-1v3h-1v4h-1v2h-2v-1h-1v-1h-1v-1h-1v-1h-2v-2h-1v-2h-1v5h-1v4h-3v-1h-1v-1h-1v1h-2v-1h-2v-1h-3v-1h-2v-2h-2v-2h-2v2h-1v-3h-1v3h-2v-1h-1v-2h-1v-2h-1v-1h-1v-2h-1v-3h-1v-1h-1v7h-1v10h-1v2h-2v-1h-1v2h-1v1h-1v-2h-1v-1h-1v-1h-2v2h-2v-2h-1v1h-1v1h-1v-1h-1v-1h-1v1h-3v-1h-1v1h-2v-1h-1v1h-2v-1h-1v2h-2v-1h-1v-1h-1v-1h-1v2h-1v-3h-1v-1h-3v-1h-1v-5h-1v1h-1v-2h-1v-2h-1v-4h-2v1h-2v15h-1v3h-1v-1h-1v1h-2v-1h-1v1h-1v-1h-2v-1h-1v2h-1v-1h-2v-1h-1v1h-1v-1h-1v1h-1v-1h-4v1h-1v-1h-5v-1h-1v1h-3v-1h-2v1h-1v-1h-2v-1h-1v-1h-1v-1h-1v1h-1v-1h-1v-2h-3v-1h-1v-2h-2v-1h-1v-1h-1v-2h-1v-1h-1v-5h-1v-2h-3v-1h-1v7h-2v-3h-1v-4h-1v-2h-1v4h-1v3h-1v2h-1v10h-1v4h-1v1h-1v-1h-3v-1h-1v1h-1v-1h-3v-1h-1v1h-2v-1h-2v1h-3v-1h-1v5h-1v-5h-1v-2h-2v2h-1v-4h-1v-2h-2v4h-1v2h-1v1h-3v-1h-1v1h-1v-2h-4v-2h-1v5h-1v-6h-2v-1h-1v-2h-2v3h-1v-5h-1v2h-1v5h-1v-4h-2v2h-1v-1h-1v-1h-1v-1h-1v1h-1v-1h-1v1h-2v2h-1v-1h-2v-3h-2v1h-2v-1h-2v2h-1v-1h-1v-1h-2v1h-1v-2h-1v-1h-1v1h-1v-1h-2v-2h-3v3h-1v1h-1v3h-1v4h-1v-4h-1v1h-3v-1h-1v2h-1v-1h-2v1h-1v-1h-1v1h-1v3h-1v-4h-2v1h-1v-2h-1v2h-1v-1h-2v1h-4v1h-2v-1h-2v1h-1v-1h-1v1h-1v1h-2v-1h-1v2h-1v-2h-1v1h-1v2h-1v-2h-1v2h-1v-3h-1v1h-1v1h-1v3h-1v-5h-1v-1h-2v-2h-1v1h-1v6h-1v1h-1v-1h-1v-1h-1v-1h-1v1h-1v-1h-1v-1h-1v1h-1v-1h-2v1h-3v1h-2v-1h-1v2h-1v-2h-1v1h-1v-2h-1v1h-1v3h-1v-2h-1v-2h-2v-1h-1v5h-1v3h-1v5h-1v-4h-2v-1h-1v2h-1v-1h-1v1h-1v-1h-2v1h-2v-1h-1v-1h-2v-1h-1v-1h-1v-1h-1v1h-1v4h-1v5h-1v-4h-3v-1h-5v1h-1v-1h-1v1h-2v-1h-2v3h-1v-2h-1v-1h-1v1h-2v-1h-1v1h-2v-1h-1v-1h-1v2h-1v-1h-1v1h-1v-2h-1v1h-1v-1h-3v-2h-1v2h-1v-1h-1v-1h-2v-2h-2v-1h-2v-1h-1v-1h-1v10h-1v2h-1v-2h-1v1h-1v1h-1v-1h-1v5h-1v-5h-1v1h-1v1h-2v-1h-2v1h-3v1h-2v-2h-1v2h-2v1h-1v-3h-1v1h-1v-1h-3v-1h-1v1h-1v1h-1v-1h-1v-1h-1v2h-1v-1h-1v-1h-1v2h-1v-4h-1v-2h-1v2h-2v2h-1v1h-1v5h-1v-3h-1v-1h-1v1h-2v1h-1v1h-1v3h-1v-4h-1v1h-1v-2h-1v-1h-1v1h-1v-1h-4v1h-4v-1h-2v2h-1v-2h-7v2h-1v-2h-1v1h-1v-1h-1v1h-2v1h-1v-1h-1v1h-1v-1h-1v-1h-1v2h-3v-1h-1v1h-1v-1h-1v1h-3v1h-4v-1h-3v2h-1v-1h-1v1h-1v-1h-1v1h-2v-1h-1v1h-1v1h-6v-1h-1v1h-1v-1h-1v1h-3v3h-1v-2h-1v-1h-5v1h-1v-1h-1v-1h-2v2h-1v-2h-1v1h-2v-1h-1v-1h-1v1h-1v1h-2v-1h-1v2h-1v-1h-2v2h-2v-1h-2v1h-1v-1h-2v1h-1v1h-3v3h-1v-2h-1v-2h-1v1h-1v1h-4v1h-3v-1h-1v1h-1v1h-1v-1h-1v-1h-1v1h-2v-1h-1v1h-1v-1h-1v1h-1v-1h-1v1h-4v-1h-1v1h-1v-1h-1v1h-4v1h-2v-1h-2v1h-4v-1h-1v1h-1v1h-1v-1h-3v1h-2v1h-1v-1h-2v1h-1v1h-1v-2h-1v1h-1v1h-1v-1h-1v1h-1v3h-1v-3h-1v-1h-1v1h-2v-1h-1v1h-2v-1h-1v2h-2v2h-1v-4h-1v1h-1v-1h-2v1h-3v1h-2v-1h-4v2h-1v-2h-1v1h-1v1h-5v-1h-1v1h-4v2h-2v2h-1v-2h-2v1h-2v1h-3v-2h-1v1h-1v-1h-2v-1h-1v1h-3v-1h-2v-1h-1v1h-4v2h-1v-2h-3v2h-2v1h-1v-1h-1v1h-1v-1h-1v-1h-3v-1h-2v2h-1v-1h-2v-1h-1v1h-1v-1h-3v1h-1v1h-1v-1h-2v1h-1v-2h-1v1h-1v1h-1v1h-1v-1h-1v1h-1v-1h-2v2h-2v2h-1v-2h-2v1h-1v-1h-1v1h-2v2h-2v-1h-1v1h-1v1h-2v1h-2v-1h-6v2h-1v-1h-2v1h-1v-1h-1v-1h-1v1h-2v2h-2v-2h-1v2h-2v-1h-1v2h-2v1h-1v-1h-2v1h-5v1h-2v1h-1v-1h-1v1h-1v1h-4v1h-2v1h-1v1h-2v1h-2v1h-1v-1h-1v2h-1v1h-1v-2h-1v1h-1v2h-1v-1h-1v2h-1v3h-2v3h-1v5h-1v-2h-1v1h-1Z"/>
<path d="M1360 1495h2v3h1v-2h1v1h1v3h1v-2h1v3h1v1h1v1h1v3h1v-5h1v4h1v-1h1v2h1v-2h1v3h1v-2h1v1h1v1h2v-2h2v1h1v1h1v-1h1v2h1v1h1v-6h1v5h1v2h1v-7h1v6h1v-2h1v2h2v-5h1v5h1v-2h1v-1h2v1h1v-1h1v-2h2v2h1v-3h1v-1h1v1h2v-3h2v-1h1v1h1v2h1v-3h2v1h4v-5h1v3h1v1h1v-2h2v1h3v-2h2v-4h1v6h2v1h1v-1h1v1h2v-1h1v2h1v-1h1v-1h3v2h1v-7h1v4h1v1h1v-1h2v1h1v-2h1v1h1v-7h1v5h1v1h1v-1h3v5h1v-1h1v2h1v-2h1v3h1v-2h1v-1h1v-7h1v7h1v-1h1v2h3v-11h1v9h1v1h1v-3h1v2h2v1h2v-7h1v-3h1v10h1v-1h3v1h1v1h1v-7h1v8h1v-1h2v-1h1v-7h1v9h1v-6h1v3h1v1h2v1h1v-2h1v-9h1v8h1v-3h1v1h1v-6h1v8h1v-2h1v-12h1v12h1v-1h2v-10h1v8h1v2h1v-3h1v-8h1v8h1v-4h1v-3h1v-3h1v1h1v1h2v1h2v2h1v-1h1v-6h1v5h1v1h2v-1h2v-15h1v15h1v-1h1v1h2v1h1v1h2v2h1v-1h2v-15h1v14h1v1h2v1h1v-7h1v7h1v-1h4v-5h1v5h1v2h1v-2h1v-8h1v6h1v-2h1v-1h1v-7h1v2h1v-3h1v5h1v2h1v-2h1v2h1v-1h1v-11h1v11h1v1h1v-1h3v1h1v-6h1v5h1v3h1v1h1v-3h1v-1h1v2h1v1h2v1h1v-14h1v14h1v-1h1v-11h1v11h3v2h1v-4h1v3h1v-15h1v15h1v-1h1v-1h1v2h2v-8h1v7h1v2h1v-2h1v1h2v1h1v-1h1v-2h1v-19h1v21h1v1h1v-11h1v8h1v4h1v-1h1v1h1v2h1v-13h1v13h2v-2h1v1h1v-13h1v13h1v-3h1v-7h1v10h1v-1h2v-1h1v-2h1v3h1v-2h1v-7h1v6h1v2h1v-3h1v-9h1v11h2v2h1v-2h1v-34h1v36h2v-3h1v4h1v-1h1v-12h1v10h2v1h1v-2h2v-1h1v1h1v-2h1v1h1v-10h1v10h1v-5h1v5h1v-22h1v23h1v2h1v-1h1v-9h1v10h2v-2h2v1h1v-6h1v4h1v3h1v-2h1v1h2v-3h1v-3h1v6h1v-1h1v1h2v-2h1v2h2v-26h1v23h1v3h1v-16h1v17h1v2h2v-3h1v2h2v-17h1v15h1v-2h2v3h1v-2h1v-18h1v13h1v4h1v-1h1v-2h1v2h1v1h1v-2h1v2h1v1h2v-1h1v-5h1v6h1v-2h1v1h1v-3h1v1h2v-10h1v10h3v-1h1v2h1v-9h1v9h1v-3h1v2h2v-3h1v2h1v-6h1v6h1v1h1v1h1v-2h1v-6h1v5h1v2h3v-1h2v2h2v-1h1v-33h1v30h1v-2h1v5h1v-1h1v3h2v-2h1v-1h2v1h1v-11h1v10h1v-4h1v-5h1v6h2v-1h1v2h1v1h2v2h1v-17h1v15h1v-5h1v2h2v-3h1v-23h1v22h1v-11h1v13h1v-7h1v4h1v4h1v1h1v-2h1v2h1v1h1v-3h1v-1h1v-1h1v-23h1v17h1v6h1v-9h1v1h1v6h1v2h2v-9h1v13h2v2h1v-1h1v3h1v-1h1v-5h1v1h1v2h1v-2h1v-4h2v2h1v-1h1v-1h1v5h1v-4h1v-19h1v19h2v-8h1v12h1v-7h1v8h1v-1h1v-1h1v3h1v-2h1v-4h1v3h1v-2h1v-21h1v16h2v2h1v-10h1v11h2v4h1v-23h1v24h1v1h1v1h1v1h2v-3h1v-19h1v20h1v-3h1v-2h1v1h1v-3h1v-9h1v8h2v-5h2v-6h1v5h1v-8h1v9h1v2h1v-3h1v1h1v2h2v-1h1v-2h1v-3h1v-3h1v3h1v2h1v-3h1v4h3v1h1v-1h1v-1h3v-1h1v-2h1v-4h2v3h1v4h1v3h1v-2h1v-28h1v24h1v-1h1v1h1v4h2v3h1v-14h1v10h1v-3h1v-2h1v2h1v2h2v-4h1v2h1v-2h1v3h3v2h1v-7h1v5h1v-4h1v4h1v-3h1v-16h1v15h1v-13h1v8h1v-1h1v2h1v-1h1v8h1v-3h1v-11h1v3h1v3h1v-7h1v-2h1v-1h1v2h2V1492h-1v26h-1v-24h-1v-1h-1v-2h-1v1h-1v2h-2v2h-2v1h-2v-3h-1v-2h-1v3h-1v1h-1v3h-2v-1h-1v-1h-3v-1h-1v4h-2v-1h-1v3h-1v-1h-2v2h-1v-2h-1v1h-1v1h-1v-1h-1v3h-1v-1h-1v5h-1v-5h-2v-4h-1v-2h-1v-4h-1v-2h-1v10h-1v1h-1v4h-1v-6h-1v1h-1v5h-1v-5h-1v-1h-1v5h-2v2h-1v-5h-2v1h-1v-1h-2v-1h-2v1h-1v-1h-2v1h-1v-2h-2v4h-1v-5h-1v1h-1v-1h-2v1h-1v-1h-1v3h-1v-1h-1v3h-1v-1h-1v-1h-1v4h-1v4h-1v-2h-1v-1h-1v4h-1v-4h-2v-1h-1v-2h-1v1h-1v-1h-1v-1h-1v-1h-1v-2h-2v4h-1v-4h-1v1h-1v1h-2v-2h-1v4h-1v-2h-1v3h-1v-1h-1v1h-2v-2h-2v4h-1v-5h-2v-1h-1v2h-3v3h-1v-2h-1v3h-1v-2h-1v2h-1v-1h-2v3h-1v-1h-1v2h-2v2h-1v-4h-1v-1h-1v2h-2v-3h-1v3h-1v-1h-1v-1h-2v-2h-1v1h-1v-1h-1v-1h-1v-1h-1v2h-1v3h-1v-1h-1v-1h-1v5h-1v-5h-1v3h-1v-1h-1v-1h-1v-3h-1v-1h-1v-3h-1v6h-1v-3h-1v1h-1v2h-1v6h-1v-4h-2v-2h-1v1h-2v1h-1v-1h-1v-1h-1v2h-1v-1h-1v2h-3v-1h-1v2h-1v-1h-2v-2h-1v3h-1v-2h-1v4h-1v-4h-1v-6h-1v-1h-1v3h-1v8h-1v2h-2v-1h-1v-1h-1v-1h-2v2h-1v-2h-1v2h-1v-2h-2v2h-1v-2h-2v2h-1v-3h-1v-1h-1v-2h-1v-1h-1v6h-1v-3h-1v2h-1v2h-2v-1h-1v2h-1v-1h-2v2h-1v2h-1v-1h-2v1h-1v-3h-2v3h-1v-2h-1v3h-1v-1h-1v-3h-1v1h-1v1h-1v2h-1v-2h-1v-1h-1v3h-1v-1h-1v-1h-2v1h-1v1h-2v2h-2v-3h-1v2h-3v-1h-2v-2h-1v1h-1v-1h-1v1h-2v1h-1v-1h-1v1h-2v-1h-1v1h-1v1h-6v-2h-1v1h-1v2h-1v-4h-2v-3h-1v-3h-1v-1h-1v-1h-1v7h-1v5h-1v-2h-2v1h-1v-1h-1v-1h-1v1h-1v-1h-2v-1h-1v3h-1v-3h-1v1h-2v-2h-1v-1h-1v-3h-1v-3h-1v-1h-1v5h-1v5h-1v2h-1v-2h-2v2h-2v-1h-1v-1h-1v2h-1v-1h-1v2h-1v-3h-2v1h-1v3h-1v-2h-1v-1h-2v2h-1v-1h-1v1h-1v-1h-1v-1h-1v2h-1v-2h-1v2h-2v-2h-1v1h-1v2h-1v-2h-1v-1h-1v1h-3v1h-1v-2h-1v3h-1v-1h-1v-1h-3v1h-1v1h-1v-3h-1v1h-1v1h-1v-1h-1v1h-2v-1h-1v3h-1v-1h-1v-1h-1v4h-1v-4h-1v1h-1v-2h-2v1h-3v-1h-1v1h-1v-1h-1v3h-1v1h-1v-4h-2v-1h-1v2h-2v-1h-1v-1h-3v1h-1v-2h-1v1h-2v1h-1v1h-1v-3h-2v-2h-1v2h-1v-4h-1v-1h-1v-1h-1v4h-1v4h-1v-1h-1v1h-2v1h-1v-1h-1v2h-1v-2h-1v2h-1v-2h-2v2h-1v1h-3v3h-2v2h-2v-3h-1v1h-2v1h-1v-2h-1v1h-2v-2h-2v2h-1v-3h-1v3h-1v-2h-1v-1h-2v2h-2v-3h-1v3h-1v-3h-1v3h-1v-3h-1v1h-1v-2h-1v-2h-1v-1h-1v1h-1v4h-1v1h-1v3h-1v1h-1v2h-1v1h-1v-1h-2v-2h-2v1h-1v-1h-1v2h-2v1h-1v-1h-1v-1h-1v2h-1v-1h-1v1h-1v3h-1v-1h-1v-1h-1v2h-1v-2h-1v2h-1v-1h-2v-1h-1v2h-1v-2h-1v1h-1v2h-2v-2h-1v1h-3v1h-1v-1h-1v-2h-1v1h-1v-1h-1v3h-1v-3h-1v3h-2v-3h-1v6h-1v-4h-2v-1h-1v1h-3v-2h-1v1h-1v-3h-1v-1h-1v1h-1v-1h-1v3h-2v-2h-1v-1h-2v3h-1v-2h-2v-1h-2v1h-2v3h-1v-1h-1v-1h-2v2h-1v2h-1v-3h-3v2h-2v-2h-1v3h-1v-3h-1v1h-1v1h-1v-1h-1v2h-1v-1h-1v1h-5v-1h-1v1h-2v-2h-2v3h-1v-2h-3v1h-1v3h-1v-1h-2v1h-1v-1h-1v2h-1v1h-1v-1h-1v-1h-1v1h-1v-1h-1v1h-1v1h-1v1h-1v-1h-1v2h-2v2h-1v-1h-1v2h-1v-1h-2v1h-3v3h-1v-1h-1v-1h-2v3h-1v-2h-1v3h-1v-3h-1v1h-1v2h-1v-1h-1v-1h-1v2h-2v-1h-1v3h-1v-3h-1v-2h-1v-4h-1v-5h-1Z"/>
<path d="M1934 1470V1440h1V1425h1V1172h1V999h1V957h1V960h1V975h1V943h1V939h1V1400h-1V1439h-1V1395h-1V1316h-1V1470Z"/>
<rect x="1038" y="783" width="120" height="1"/>
<rect x="2153" y="785" width="120" height="1"/>
<rect x="1030" y="1646" width="120" height="1"/>
<rect x="2126" y="1662" width="120" height="1"/>
</g>
<g fill="#000" shape-rendering="crispEdges">
<rect x="259" y="52" width="1" height="785"/>
<rect x="259" y="836" width="1013" height="1"/>
<rect x="257" y="52" width="1015" height="4"/>
<rect x="1269" y="52" width="3" height="786"/>
<rect x="343" y="828" width="1" height="8"/>
<rect x="427" y="820" width="1" height="16"/>
<rect x="512" y="828" width="1" height="8"/>
<rect x="596" y="820" width="1" height="16"/>
<rect x="680" y="828" width="1" height="8"/>
<rect x="764" y="820" width="1" height="16"/>
<rect x="849" y="828" width="1" height="8"/>
<rect x="933" y="820" width="1" height="16"/>
<rect x="1017" y="828" width="1" height="8"/>
<rect x="1101" y="820" width="1" height="16"/>
<rect x="1186" y="828" width="1" height="8"/>
<rect x="260" y="758" width="7" height="1"/>
<rect x="260" y="679" width="15" height="1"/>
<rect x="260" y="601" width="7" height="1"/>
<rect x="260" y="523" width="15" height="1"/>
<rect x="260" y="445" width="7" height="1"/>
<rect x="260" y="366" width="15" height="1"/>
<rect x="260" y="288" width="7" height="1"/>
<rect x="260" y="210" width="15" height="1"/>
<rect x="260" y="132" width="7" height="1"/>
<rect x="1359" y="52" width="1" height="785"/>
<rect x="1359" y="836" width="1014" height="1"/>
<rect x="1357" y="52" width="1016" height="4"/>
<rect x="2369" y="52" width="4" height="786"/>
<rect x="1444" y="828" width="1" height="8"/>
<rect x="1528" y="820" width="1" height="16"/>
<rect x="1612" y="828" width="1" height="8"/>
<rect x="1696" y="820" width="1" height="16"/>
<rect x="1781" y="828" width="1" height="8"/>
<rect x="1865" y="820" width="1" height="16"/>
<rect x="1949" y="828" width="1" height="8"/>
<rect x="2033" y="820" width="1" height="16"/>
<rect x="2118" y="828" width="1" height="8"/>
<rect x="2202" y="820" width="1" height="16"/>
<rect x="2286" y="828" width="1" height="8"/>
<rect x="1360" y="758" width="8" height="1"/>
<rect x="1360" y="679" width="15" height="1"/>
<rect x="1360" y="601" width="8" height="1"/>
<rect x="1360" y="523" width="15" height="1"/>
<rect x="1360" y="445" width="8" height="1"/>
<rect x="1360" y="366" width="15" height="1"/>
<rect x="1360" y="288" width="8" height="1"/>
<rect x="1360" y="210" width="15" height="1"/>
<rect x="1360" y="132" width="8" height="1"/>
<rect x="259" y="936" width="1" height="784"/>
<rect x="259" y="1719" width="1013" height="1"/>
<rect x="257" y="936" width="1015" height="3"/>
<rect x="1269" y="936" width="3" height="786"/>
<rect x="343" y="1712" width="1" height="7"/>
<rect x="427" y="1704" width="1" height="15"/>
<rect x="512" y="1712" width="1" height="7"/>
<rect x="596" y="1704" width="1" height="15"/>
<rect x="680" y="1712" width="1" height="7"/>
<rect x="764" y="1704" width="1" height="15"/>
<rect x="849" y="1712" width="1" height="7"/>
<rect x="933" y="1704" width="1" height="15"/>
<rect x="1017" y="1712" width="1" height="7"/>
<rect x="1101" y="1704" width="1" height="15"/>
<rect x="1186" y="1712" width="1" height="7"/>
<rect x="260" y="1641" width="7" height="1"/>
<rect x="260" y="1563" width="15" height="1"/>
<rect x="260" y="1485" width="7" height="1"/>
<rect x="260" y="1406" width="15" height="1"/>
<rect x="260" y="1328" width="7" height="1"/>
<rect x="260" y="1250" width="15" height="1"/>
<rect x="260" y="1172" width="7" height="1"/>
<rect x="260" y="1093" width="15" height="1"/>
<rect x="260" y="1015" width="7" height="1"/>
<rect x="1359" y="936" width="1" height="784"/>
<rect x="1359" y="1719" width="1014" height="1"/>
<rect x="1357" y="936" width="1016" height="3"/>
<rect x="2369" y="936" width="4" height="786"/>
<rect x="1444" y="1712" width="1" height="7"/>
<rect x="1528" y="1704" width="1" height="15"/>
<rect x="1612" y="1712" width="1" height="7"/>
<rect x="1696" y="1704" width="1" height="15"/>
<rect x="1781" y="1712" width="1" height="7"/>
<rect x="1865" y="1704" width="1" height="15"/>
<rect x="1949" y="1712" width="1" height="7"/>
<rect x="2033" y="1704" width="1" height="15"/>
<rect x="2118" y="1712" width="1" height="7"/>
<rect x="2202" y="1704" width="1" height="15"/>
<rect x="2286" y="1712" width="1" height="7"/>
<rect x="1360" y="1641" width="8" height="1"/>
<rect x="1360" y="1563" width="15" height="1"/>
<rect x="1360" y="1485" width="8" height="1"/>
<rect x="1360" y="1406" width="15" height="1"/>
<rect x="1360" y="1328" width="8" height="1"/>
<rect x="1360" y="1250" width="15" height="1"/>
<rect x="1360" y="1172" width="8" height="1"/>
<rect x="1360" y="1093" width="15" height="1"/>
<rect x="1360" y="1015" width="8" height="1"/>
</g>
<g fill="#000" font-family="'Liberation Serif', 'Times New Roman', serif">
<g stroke="#000" stroke-width="0.4" stroke-linejoin="round">
<g font-size="52" text-anchor="middle">
<text transform="translate(259.4 898.5) scale(1.02 1)">0</text>
<text transform="translate(427.9 898.5) scale(1.02 1)">600</text>
<text transform="translate(596.4 898.5) scale(1.02 1)">1200</text>
<text transform="translate(764.9 898.5) scale(1.02 1)">1800</text>
<text transform="translate(933.4 898.5) scale(1.02 1)">2400</text>
<text transform="translate(1101.9 898.5) scale(1.02 1)">3000</text>
<text transform="translate(1270.4 898.5) scale(1.02 1)">3600</text>
</g>
<g font-size="48" text-anchor="end">
<text transform="translate(241.7 851.0) scale(1.015 1)">0.00</text>
<text transform="translate(241.7 694.4) scale(1.015 1)">0.05</text>
<text transform="translate(241.7 537.8) scale(1.015 1)">0.10</text>
<text transform="translate(241.7 381.3) scale(1.015 1)">0.15</text>
<text transform="translate(241.7 224.7) scale(1.015 1)">0.20</text>
<text transform="translate(241.7 68.1) scale(1.015 1)">0.25</text>
</g>
<text transform="translate(1170.0 800.5) scale(1.01 1)" font-size="52">5N</text>
<g font-size="52" text-anchor="middle">
<text transform="translate(1360.0 898.5) scale(1.02 1)">0</text>
<text transform="translate(1528.5 898.5) scale(1.02 1)">600</text>
<text transform="translate(1697.1 898.5) scale(1.02 1)">1200</text>
<text transform="translate(1865.6 898.5) scale(1.02 1)">1800</text>
<text transform="translate(2034.1 898.5) scale(1.02 1)">2400</text>
<text transform="translate(2202.7 898.5) scale(1.02 1)">3000</text>
<text transform="translate(2371.2 898.5) scale(1.02 1)">3600</text>
</g>
<g font-size="48" text-anchor="end">
<text transform="translate(1356.4 851.0) scale(1.015 1)">0.00</text>
<text transform="translate(1356.4 694.4) scale(1.015 1)">0.05</text>
<text transform="translate(1356.4 537.8) scale(1.015 1)">0.10</text>
<text transform="translate(1356.4 381.3) scale(1.015 1)">0.15</text>
<text transform="translate(1356.4 224.7) scale(1.015 1)">0.20</text>
<text transform="translate(1356.4 68.1) scale(1.015 1)">0.25</text>
</g>
<text transform="translate(2285.0 802.6) scale(1.01 1)" font-size="52">8N</text>
<g font-size="52" text-anchor="middle">
<text transform="translate(259.7 1777.5) scale(1.02 1)">0</text>
<text transform="translate(428.2 1777.5) scale(1.02 1)">600</text>
<text transform="translate(596.7 1777.5) scale(1.02 1)">1200</text>
<text transform="translate(765.2 1777.5) scale(1.02 1)">1800</text>
<text transform="translate(933.7 1777.5) scale(1.02 1)">2400</text>
<text transform="translate(1102.2 1777.5) scale(1.02 1)">3000</text>
<text transform="translate(1270.7 1777.5) scale(1.02 1)">3600</text>
</g>
<g font-size="48" text-anchor="end">
<text transform="translate(241.7 1735.0) scale(1.015 1)">0.00</text>
<text transform="translate(241.7 1578.4) scale(1.015 1)">0.05</text>
<text transform="translate(241.7 1421.8) scale(1.015 1)">0.10</text>
<text transform="translate(241.7 1265.2) scale(1.015 1)">0.15</text>
<text transform="translate(241.7 1108.6) scale(1.015 1)">0.20</text>
<text transform="translate(241.7 952.0) scale(1.015 1)">0.25</text>
</g>
<text transform="translate(1163.8 1663.6) scale(1.01 1)" font-size="52">10N</text>
<g font-size="52" text-anchor="middle">
<text transform="translate(1360.0 1777.5) scale(1.02 1)">0</text>
<text transform="translate(1528.5 1777.5) scale(1.02 1)">600</text>
<text transform="translate(1697.1 1777.5) scale(1.02 1)">1200</text>
<text transform="translate(1865.6 1777.5) scale(1.02 1)">1800</text>
<text transform="translate(2034.1 1777.5) scale(1.02 1)">2400</text>
<text transform="translate(2202.7 1777.5) scale(1.02 1)">3000</text>
<text transform="translate(2371.2 1777.5) scale(1.02 1)">3600</text>
</g>
<g font-size="48" text-anchor="end">
<text transform="translate(1342.2 1735.0) scale(1.015 1)">0.0</text>
<text transform="translate(1342.2 1578.5) scale(1.015 1)">0.1</text>
<text transform="translate(1342.2 1422.0) scale(1.015 1)">0.2</text>
<text transform="translate(1342.2 1265.5) scale(1.015 1)">0.3</text>
<text transform="translate(1342.2 1109.0) scale(1.015 1)">0.4</text>
<text transform="translate(1342.2 952.6) scale(1.015 1)">0.5</text>
</g>
<text transform="translate(2259.3 1679.6) scale(1.01 1)" font-size="52">15N</text>
</g>
<g stroke="#000" stroke-width="0.7" stroke-linejoin="round">
<text transform="translate(975.8 1877.3) scale(0.994 1.005)" font-size="68">Sliding time (s)</text>
<text transform="translate(75.1 1201.9) rotate(-90) scale(0.992 1)" font-size="68">Friction coefficient</text>
</g>
</g>
</svg>
</body></html>
